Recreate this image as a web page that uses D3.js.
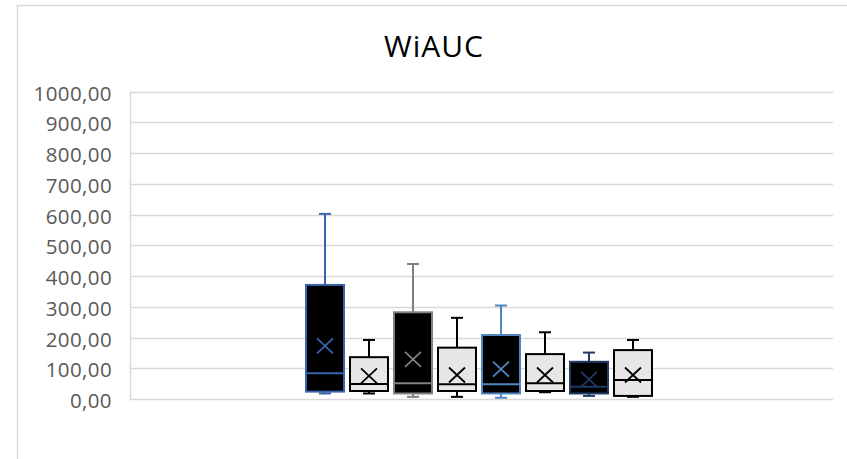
<!DOCTYPE html>
<html>
<head>
<meta charset="utf-8">
<script src="https://cdn.jsdelivr.net/npm/d3@7/dist/d3.min.js"></script>
<style>
  html, body { margin: 0; padding: 0; background: #ffffff; }
  svg { display: block; }
</style>
</head>
<body>
<svg id="chart" width="847" height="459"></svg>
<script>
// Eight groups, each summarised as a box plot
const seriesNames = ["G1", "G2", "G3", "G4", "G5", "G6", "G7", "G8"];
const whiskerLow  = [18,  18,  7,   7,   4,   22,  10,  7];
const q1          = [24,  26,  18,  26,  18,  26,  18,  10];
const median      = [84,  49,  51,  48,  48,  51,  40,  62];
const q3          = [371, 136, 282, 167, 208, 146, 121, 159];
const whiskerHigh = [602, 192, 439, 264, 304, 217, 151, 192];
const means       = [173, 75,  129, 78,  97,  78,  64,  78];

const yTicks = [0, 100, 200, 300, 400, 500, 600, 700, 800, 900, 1000];
const yTickLabel = v => v.toFixed(2).replace(".", ",");
const chartTitle = "WiAUC";

// Per-box styling: fill and outline colour
const boxFill   = ["#000000", "#e7e7e7", "#000000", "#e7e7e7", "#000000", "#e7e7e7", "#000000", "#e7e7e7"];
const boxStroke = ["#3a63ad", "#000000", "#808080", "#000000", "#4f86be", "#000000", "#213a63", "#000000"];

const svg = d3.select("#chart");

// Outer chart frame
svg.append("rect")
  .attr("x", 17.5).attr("y", 5.5)
  .attr("width", 900).attr("height", 500)
  .attr("fill", "none").attr("stroke", "#d9d9d9").attr("stroke-width", 1.5);

const plot = { left: 130, right: 833, top: 91.5, bottom: 399 };

const y = d3.scaleLinear().domain([0, 1000]).range([plot.bottom, plot.top]);
const x = d3.scaleBand().domain(seriesNames).range([305, 653]).paddingInner(4 / 44).paddingOuter(0);

// Title
svg.append("text")
  .attr("x", 434).attr("y", 57)
  .attr("text-anchor", "middle")
  .attr("font-family", "'Open Sans', sans-serif")
  .attr("font-size", 30)
  .attr("letter-spacing", 1)
  .attr("fill", "#000000")
  .text(chartTitle);

// Horizontal gridlines
svg.append("g")
  .selectAll("line")
  .data(yTicks)
  .join("line")
  .attr("x1", plot.left).attr("x2", plot.right)
  .attr("y1", d => Math.round(y(d)) + 0.5).attr("y2", d => Math.round(y(d)) + 0.5)
  .attr("stroke", "#d9d9d9").attr("stroke-width", 1.5);

// Left edge of the plot area
svg.append("line")
  .attr("x1", plot.left + 0.5).attr("x2", plot.left + 0.5)
  .attr("y1", plot.top).attr("y2", plot.bottom + 1)
  .attr("stroke", "#d9d9d9").attr("stroke-width", 1.5);

// Y axis labels
const yAxis = d3.axisLeft(y).tickValues(yTicks).tickFormat(yTickLabel).tickSize(0).tickPadding(0);
const yAxisG = svg.append("g")
  .attr("transform", "translate(112,0)")
  .call(yAxis);
yAxisG.select(".domain").remove();
yAxisG.selectAll("text")
  .attr("font-family", "'Open Sans', sans-serif")
  .attr("font-size", 20.5)
  .attr("letter-spacing", 0.4)
  .attr("fill", "#595959")
  .attr("dy", "0.42em");

// Boxes
const boxes = svg.append("g")
  .selectAll("g")
  .data(seriesNames.map((name, i) => ({
    name, i,
    lo: whiskerLow[i], q1: q1[i], med: median[i], q3: q3[i], hi: whiskerHigh[i], mean: means[i]
  })))
  .join("g");

const bw = x.bandwidth();
const capW = 12;
const sw = 2;

// Whiskers
boxes.append("line")
  .attr("x1", d => x(d.name) + bw / 2).attr("x2", d => x(d.name) + bw / 2)
  .attr("y1", d => y(d.hi)).attr("y2", d => y(d.q3))
  .attr("stroke", d => boxStroke[d.i]).attr("stroke-width", sw);
boxes.append("line")
  .attr("x1", d => x(d.name) + bw / 2).attr("x2", d => x(d.name) + bw / 2)
  .attr("y1", d => y(d.q1)).attr("y2", d => y(d.lo))
  .attr("stroke", d => boxStroke[d.i]).attr("stroke-width", sw);
// Whisker caps
boxes.append("line")
  .attr("x1", d => x(d.name) + bw / 2 - capW / 2).attr("x2", d => x(d.name) + bw / 2 + capW / 2)
  .attr("y1", d => y(d.hi)).attr("y2", d => y(d.hi))
  .attr("stroke", d => boxStroke[d.i]).attr("stroke-width", sw);
boxes.append("line")
  .attr("x1", d => x(d.name) + bw / 2 - capW / 2).attr("x2", d => x(d.name) + bw / 2 + capW / 2)
  .attr("y1", d => y(d.lo)).attr("y2", d => y(d.lo))
  .attr("stroke", d => boxStroke[d.i]).attr("stroke-width", sw);

// Box body (Q1 to Q3)
boxes.append("rect")
  .attr("x", d => x(d.name) + sw / 2)
  .attr("width", bw - sw)
  .attr("y", d => y(d.q3))
  .attr("height", d => y(d.q1) - y(d.q3))
  .attr("fill", d => boxFill[d.i])
  .attr("stroke", d => boxStroke[d.i]).attr("stroke-width", sw);

// Median line
boxes.append("line")
  .attr("x1", d => x(d.name) + sw / 2).attr("x2", d => x(d.name) + bw - sw / 2)
  .attr("y1", d => y(d.med)).attr("y2", d => y(d.med))
  .attr("stroke", d => boxStroke[d.i]).attr("stroke-width", sw);

// Mean marker (X)
const mx = 8, my = 7.5;
boxes.append("path")
  .attr("d", d => {
    const cx = x(d.name) + bw / 2, cy = y(d.mean);
    return `M${cx - mx},${cy - my}L${cx + mx},${cy + my}M${cx - mx},${cy + my}L${cx + mx},${cy - my}`;
  })
  .attr("fill", "none")
  .attr("stroke", d => d.i % 2 === 0 ? boxStroke[d.i] : "#000000")
  .attr("stroke-width", 1.8);
</script>
</body>
</html>
